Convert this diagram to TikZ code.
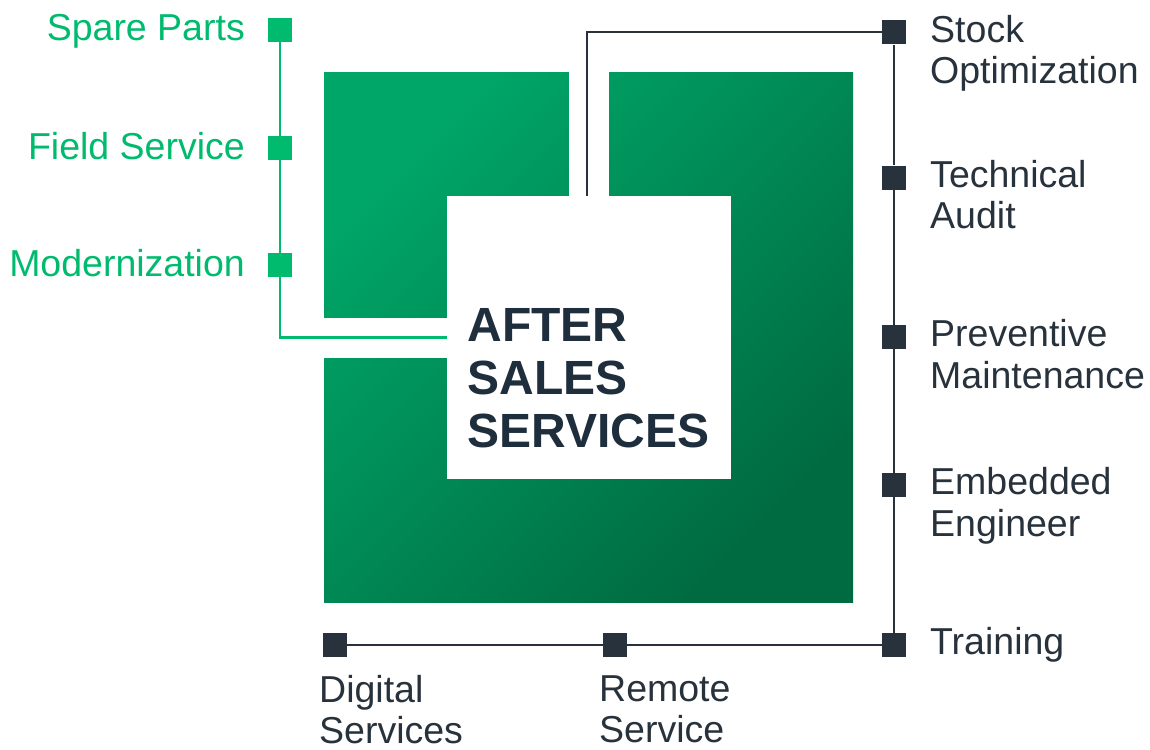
\documentclass[tikz,border=0pt]{standalone}
\usepackage{fontspec}
\setmainfont{Liberation Sans}
\definecolor{gtop}{HTML}{00A668}
\definecolor{gbot}{HTML}{006A40}
\definecolor{gbright}{HTML}{00BB6D}
\definecolor{ink}{HTML}{28323C}
\definecolor{title}{HTML}{1F2E3C}
\tikzset{
  gsq/.style={fill=gbright,minimum size=24pt,inner sep=0},
  dsq/.style={fill=ink,minimum size=24pt,inner sep=0},
  glabel/.style={text=gbright,font=\fontsize{37.5}{43}\selectfont,inner sep=0,anchor=base east},
  dlabel/.style={text=ink,font=\fontsize{37.5}{41.5}\selectfont,inner sep=0,align=left,anchor=north west},
  heading/.style={text=title,font=\bfseries\fontsize{48}{53}\selectfont,inner sep=0,align=left,anchor=north west},
}
\begin{document}
\begin{tikzpicture}[x=1pt,y=-1pt]
\useasboundingbox (0,0) rectangle (1150,749);
% green frame with its two openings
\shade[top color=gtop,bottom color=gbot,shading angle=45] (324,73) rectangle (853,602);
\node[fill=white,minimum width=284pt,minimum height=283pt,inner sep=0] (core) at (589,337.5) {};
\fill[white] (569,72) rectangle (609,197);
\fill[white] (323,318) rectangle (448,358);
\node[heading] (title) at ([xshift=20.5pt,yshift=29pt]core.west) {AFTER\\SALES\\SERVICES};
% left branch
\node[gsq] (spare) at (280,30) {};
\node[gsq] (field) at (280,148) {};
\node[gsq] (modern) at (280,265) {};
\foreach \n/\t in {spare/Spare Parts,field/Field Service,modern/Modernization}
  \node[glabel] (\n-text) at ([xshift=-35pt,yshift=-11pt]\n.center) {\t};
\draw[gbright,line width=2.5pt] (spare) -- (field) -- (modern) |- (core.west);
% right and bottom branch
\node[dsq] (stock) at (894,32.5) {};
\node[dsq] (audit) at (894,177.5) {};
\node[dsq] (prevent) at (894,337) {};
\node[dsq] (embed) at (894,485) {};
\node[dsq] (train) at (894,645) {};
\node[dsq] (remote) at (615,645) {};
\node[dsq] (digital) at (335,645) {};
\foreach \n/\t in {stock/{Stock\\Optimization},audit/{Technical\\Audit},prevent/{Preventive\\Maintenance},embed/{Embedded\\Engineer},train/Training}
  \node[dlabel] (\n-text) at ([xshift=36pt,yshift=17.5pt]\n.center) {\t};
\foreach \n/\t in {digital/{Digital\\Services},remote/{Remote\\Service}}
  \node[dlabel] (\n-text) at ([xshift=-16pt,yshift=-30pt]\n.center) {\t};
\coordinate (tap) at (587,196);
\draw[ink,line width=2pt] (stock) -| (tap);
\draw[ink,line width=2pt] (stock) -- (audit) -- (prevent) -- (embed) -- (train) -- (remote) -- (digital);
\end{tikzpicture}
\end{document}
